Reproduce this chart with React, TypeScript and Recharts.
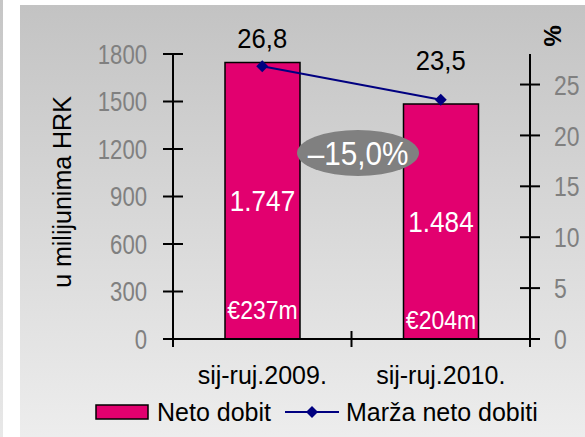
import { ComposedChart, Bar, Line, XAxis, YAxis, LabelList } from 'recharts';

const categories = ['sij-ruj.2009.', 'sij-ruj.2010.'];
const netProfit = [1747, 1484];
const netMargin = [26.8, 23.5];
const eurLabels = ['€237m', '€204m'];
const profitTicks = [0, 300, 600, 900, 1200, 1500, 1800];
const marginTicks = [0, 5, 10, 15, 20, 25];

const rows = categories.map((name, i) => ({
  name,
  profit: netProfit[i],
  margin: netMargin[i],
  eur: eurLabels[i],
}));

const FONT = '"Liberation Sans", Arial, sans-serif';
const MAGENTA = '#e2006f';
const NAVY = '#000080';

const fmtThousands = (v: number) =>
  v >= 1000 ? `${Math.floor(v / 1000)}.${String(v % 1000).padStart(3, '0')}` : String(v);

// narrow text, the original numbers are drawn taller than they are wide
const Narrow = ({ x, y, sx, anchor, fill, size, children }: any) => (
  <text
    transform={`translate(${x},${y}) scale(${sx},1)`}
    dy="0.36em"
    textAnchor={anchor}
    fill={fill}
    fontSize={size}
    fontFamily={FONT}
  >
    {children}
  </text>
);

const LeftTick = ({ x, y, payload }: any) => (
  <g>
    <line x1={x - 10} x2={x + 10} y1={y} y2={y} stroke="#000" strokeWidth={2} />
    <Narrow x={x - 26} y={y} sx={0.82} anchor="end" fill="#808080" size={27}>
      {payload.value}
    </Narrow>
  </g>
);

const RightTick = ({ x, y, payload }: any) => (
  <g>
    <line x1={x - 10} x2={x + 10} y1={y} y2={y} stroke="#000" strokeWidth={2} />
    <Narrow x={x + 24} y={y} sx={0.82} anchor="start" fill="#808080" size={28}>
      {payload.value}
    </Narrow>
  </g>
);

const CatTick = ({ x, y, payload, index, visibleTicksCount }: any) => {
  const half = payload?.offset || 89;
  const last = index === (visibleTicksCount ?? categories.length) - 1;
  return (
    <g>
      <line x1={x - half} x2={x - half} y1={y - 8} y2={y + 8} stroke="#000" strokeWidth={2} />
      {last && <line x1={x + half} x2={x + half} y1={y - 8} y2={y + 8} stroke="#000" strokeWidth={2} />}
      <text x={x} y={y + 45} textAnchor="middle" fill="#000" fontSize={25} fontFamily={FONT}>
        {payload.value}
      </text>
    </g>
  );
};

const Diamond = ({ cx, cy }: any) =>
  cx == null ? null : (
    <polygon points={`${cx},${cy - 6} ${cx + 6},${cy} ${cx},${cy + 6} ${cx - 6},${cy}`} fill={NAVY} />
  );

const ProfitLabel = ({ x, y, width, height, value }: any) => (
  <Narrow x={x + width / 2} y={y + height / 2} sx={0.87} anchor="middle" fill="#fff" size={30}>
    {fmtThousands(Number(value))}
  </Narrow>
);

const eurOffsets = [29, 19];
const EurLabel = ({ x, y, width, height, index }: any) => (
  <Narrow x={x + width / 2} y={y + height - eurOffsets[index]} sx={0.92} anchor="middle" fill="#fff" size={25}>
    {eurLabels[index]}
  </Narrow>
);

const marginOffsets = [28, 40];
const MarginLabel = ({ x, y, value, index }: any) => (
  <Narrow x={x} y={y - marginOffsets[index]} sx={0.95} anchor="middle" fill="#000" size={27}>
    {Number(value).toFixed(1).replace('.', ',')}
  </Narrow>
);

export default function App() {
  return (
    <div style={{ position: 'relative', width: 585, height: 437, background: '#fff', overflow: 'hidden' }}>
      <style>{'body{margin:0}'}</style>
      <div
        style={{
          position: 'absolute',
          left: 0,
          top: 0,
          width: 3,
          height: 437,
          background: 'linear-gradient(#c6c6c6, #e8e8e8)',
        }}
      />
      <div
        style={{
          position: 'absolute',
          left: 20,
          top: 5,
          right: 0,
          bottom: 0,
          background: 'linear-gradient(#c3c3c3, #ededed)',
        }}
      />
      <div style={{ position: 'absolute', left: 0, top: 0 }}>
        <ComposedChart width={585} height={437} data={rows} margin={{ top: 54, right: 10, bottom: 58, left: 93 }}>
          <XAxis
            dataKey="name"
            height={40}
            axisLine={{ stroke: '#000', strokeWidth: 2 }}
            tickLine={false}
            tickSize={0}
            tickMargin={0}
            tick={<CatTick />}
            interval={0}
          />
          <YAxis
            yAxisId="left"
            width={80}
            domain={[0, 1800]}
            ticks={profitTicks}
            interval={0}
            axisLine={{ stroke: '#000', strokeWidth: 2 }}
            tickLine={false}
            tickSize={0}
            tickMargin={0}
            tick={<LeftTick />}
          />
          <YAxis
            yAxisId="right"
            orientation="right"
            width={45}
            domain={[0, 28]}
            ticks={marginTicks}
            interval={0}
            axisLine={{ stroke: '#000', strokeWidth: 2 }}
            tickLine={false}
            tickSize={0}
            tickMargin={0}
            tick={<RightTick />}
          />
          <Bar
            yAxisId="left"
            dataKey="profit"
            fill={MAGENTA}
            stroke="#000"
            strokeWidth={1.5}
            barSize={75}
            isAnimationActive={false}
          >
            <LabelList dataKey="profit" content={<ProfitLabel />} />
            <LabelList dataKey="eur" content={<EurLabel />} />
          </Bar>
          <Line
            yAxisId="right"
            dataKey="margin"
            stroke={NAVY}
            strokeWidth={2}
            dot={<Diamond />}
            activeDot={false}
            isAnimationActive={false}
          >
            <LabelList dataKey="margin" content={<MarginLabel />} />
          </Line>
        </ComposedChart>
      </div>
      <svg width={585} height={437} style={{ position: 'absolute', left: 0, top: 0, pointerEvents: 'none' }}>
        <ellipse cx={358} cy={153} rx={61} ry={23} fill="#808080" />
        <Narrow x={358} y={153} sx={0.9} anchor="middle" fill="#fff" size={33}>
          –15,0%
        </Narrow>
        <text
          transform="translate(62,192) rotate(-90)"
          textAnchor="middle"
          dy="0.36em"
          fill="#000"
          fontSize={25}
          fontFamily={FONT}
        >
          u milijunima HRK
        </text>
        <text
          transform="translate(553,36) rotate(90)"
          textAnchor="middle"
          dy="0.36em"
          fill="#000"
          fontSize={24}
          fontWeight="bold"
          fontFamily={FONT}
        >
          %
        </text>
        <rect x={96} y={405} width={52} height={14} fill={MAGENTA} stroke="#000" strokeWidth={1.5} />
        <text x={157} y={412} dy="0.36em" fill="#000" fontSize={25} fontFamily={FONT}>
          Neto dobit
        </text>
        <line x1={285} x2={339} y1={412} y2={412} stroke={NAVY} strokeWidth={2} />
        <polygon points="312,406 318,412 312,418 306,412" fill={NAVY} />
        <text x={346} y={412} dy="0.36em" fill="#000" fontSize={25} fontFamily={FONT}>
          Marža neto dobiti
        </text>
      </svg>
    </div>
  );
}
